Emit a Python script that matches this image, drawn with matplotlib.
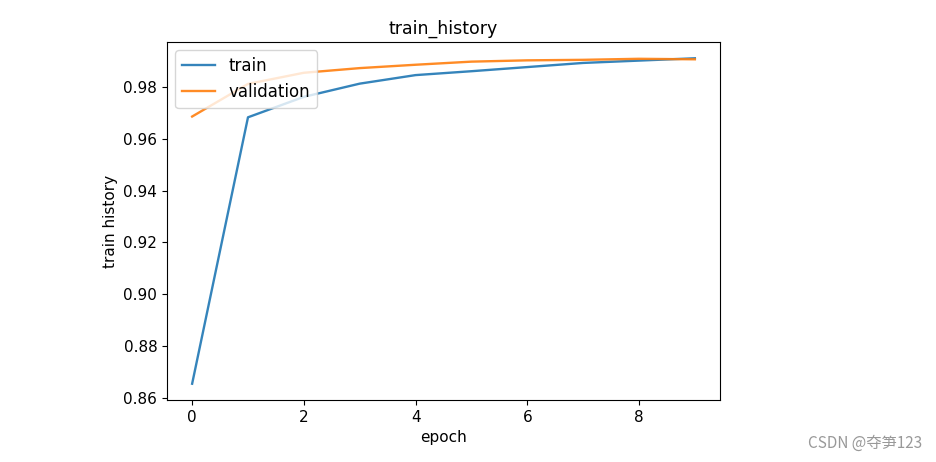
import matplotlib
matplotlib.use("Agg")
import matplotlib.pyplot as plt

epochs = [0, 1, 2, 3, 4, 5, 6, 7, 8, 9]
train = [0.8654, 0.9683, 0.9762, 0.9813, 0.9846, 0.9861, 0.9877, 0.9893, 0.9902, 0.9911]
validation = [0.9686, 0.9812, 0.9855, 0.9873, 0.9886, 0.9898, 0.9903, 0.9905, 0.9909, 0.9907]

fig = plt.figure(figsize=(9.37, 4.62), dpi=100)
ax = fig.add_axes([167/937, 1-400/462, (720-167)/937, (400-42)/462])
ax.plot(epochs, train, label="train", alpha=0.9, linewidth=1.7)
ax.plot(epochs, validation, label="validation", alpha=0.9, linewidth=1.7)
ax.set_title("train_history", fontsize=12.5)
ax.set_xlabel("epoch", fontsize=11)
ax.set_ylabel("train history", fontsize=11)
ax.tick_params(labelsize=11)
ax.legend(loc="upper left", fontsize=12)
fig.text(0.984, 0.04, "CSDN @夺笋123", ha="right", va="center", fontsize=11,
         color="#999999", family=["Noto Sans CJK SC", "DejaVu Sans"])
fig.savefig("out.png", dpi=100)
